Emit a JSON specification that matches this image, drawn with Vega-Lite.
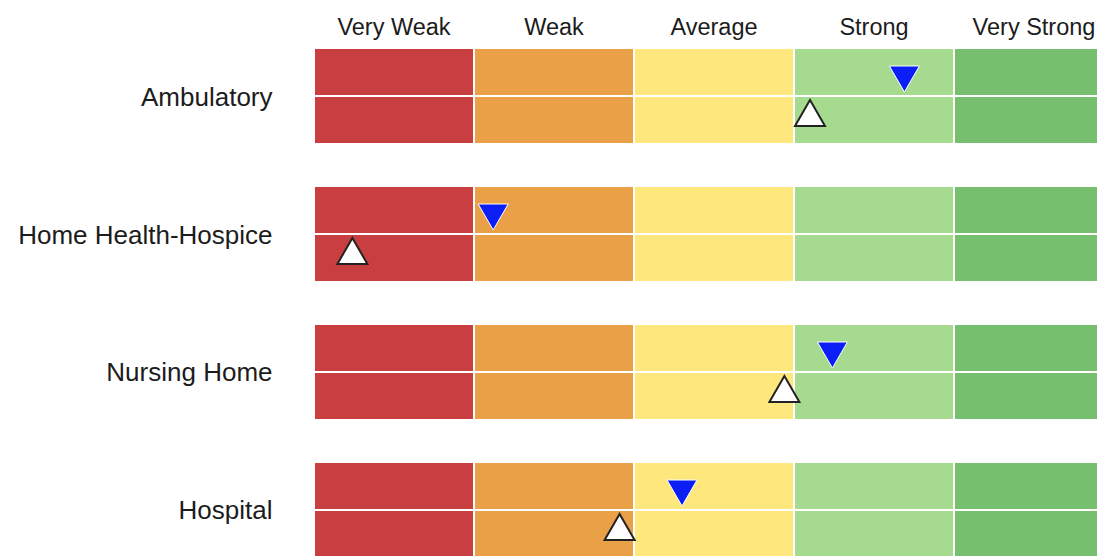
{
  "$schema": "https://vega.github.io/schema/vega-lite/v6.json",
  "width": 783,
  "height": 508,
  "autosize": {"type": "none"},
  "padding": {"left": 314, "top": 48, "right": 0, "bottom": 0},
  "background": "white",
  "config": {"view": {"stroke": null}, "font": "Liberation Sans"},
  "datasets": {
    "cells": [
      {"setting": "Ambulatory", "level": "Very Weak"},
      {"setting": "Ambulatory", "level": "Weak"},
      {"setting": "Ambulatory", "level": "Average"},
      {"setting": "Ambulatory", "level": "Strong"},
      {"setting": "Ambulatory", "level": "Very Strong"},
      {"setting": "Home Health-Hospice", "level": "Very Weak"},
      {"setting": "Home Health-Hospice", "level": "Weak"},
      {"setting": "Home Health-Hospice", "level": "Average"},
      {"setting": "Home Health-Hospice", "level": "Strong"},
      {"setting": "Home Health-Hospice", "level": "Very Strong"},
      {"setting": "Nursing Home", "level": "Very Weak"},
      {"setting": "Nursing Home", "level": "Weak"},
      {"setting": "Nursing Home", "level": "Average"},
      {"setting": "Nursing Home", "level": "Strong"},
      {"setting": "Nursing Home", "level": "Very Strong"},
      {"setting": "Hospital", "level": "Very Weak"},
      {"setting": "Hospital", "level": "Weak"},
      {"setting": "Hospital", "level": "Average"},
      {"setting": "Hospital", "level": "Strong"},
      {"setting": "Hospital", "level": "Very Strong"}
    ],
    "markers": [
      {"setting": "Ambulatory", "period": "Current", "score": 3.69},
      {"setting": "Ambulatory", "period": "Previous", "score": 3.10},
      {"setting": "Home Health-Hospice", "period": "Current", "score": 1.12},
      {"setting": "Home Health-Hospice", "period": "Previous", "score": 0.24},
      {"setting": "Nursing Home", "period": "Current", "score": 3.24},
      {"setting": "Nursing Home", "period": "Previous", "score": 2.94},
      {"setting": "Hospital", "period": "Current", "score": 2.30},
      {"setting": "Hospital", "period": "Previous", "score": 1.91}
    ]
  },
  "layer": [
    {
      "data": {"name": "cells"},
      "mark": {"type": "rect", "stroke": "white", "strokeWidth": 2},
      "encoding": {
        "x": {
          "field": "level",
          "type": "nominal",
          "sort": ["Very Weak", "Weak", "Average", "Strong", "Very Strong"],
          "scale": {"domain": ["Very Weak", "Weak", "Average", "Strong", "Very Strong"], "range": [0, 800], "paddingInner": 0, "paddingOuter": 0},
          "axis": {"orient": "top", "title": null, "ticks": false, "domain": false, "labelAngle": 0, "labelFontSize": 23.5, "labelColor": "#1c1c1c", "labelPadding": 9, "labelFont": "Liberation Sans", "labelLimit": 0}
        },
        "y": {
          "field": "setting",
          "type": "nominal",
          "sort": ["Ambulatory", "Home Health-Hospice", "Nursing Home", "Hospital"],
          "scale": {"domain": ["Ambulatory", "Home Health-Hospice", "Nursing Home", "Hospital"], "range": [0, 510], "paddingInner": 0.3043, "paddingOuter": 0},
          "axis": {"title": null, "ticks": false, "domain": false, "labelFontSize": 26, "labelColor": "#1c1c1c", "labelPadding": 42, "labelOffset": 1.5, "labelFont": "Liberation Sans", "labelLimit": 0}
        },
        "color": {
          "field": "level",
          "type": "nominal",
          "scale": {"domain": ["Very Weak", "Weak", "Average", "Strong", "Very Strong"], "range": ["#C93E41", "#EAA046", "#FEE87D", "#A6DB8F", "#76BF6F"]},
          "legend": null
        }
      }
    },
    {
      "data": {"name": "cells"},
      "mark": {"type": "rule", "color": "white", "strokeWidth": 2},
      "encoding": {
        "y": {"field": "setting", "type": "nominal"}
      }
    },
    {
      "data": {"name": "markers"},
      "transform": [{"filter": "datum.period === 'Current'"}],
      "mark": {"type": "point", "shape": "triangle-down", "filled": true, "size": 900, "opacity": 1, "fill": "#0A1EF5", "stroke": "#FFFFFF", "strokeWidth": 1, "yOffset": -17},
      "encoding": {
        "x": {"field": "score", "type": "quantitative", "scale": {"domain": [0, 5], "range": [0, 800], "nice": false, "zero": false}, "axis": null},
        "y": {"field": "setting", "type": "nominal"}
      }
    },
    {
      "data": {"name": "markers"},
      "transform": [{"filter": "datum.period === 'Previous'"}],
      "mark": {"type": "point", "shape": "triangle-up", "filled": true, "size": 900, "opacity": 1, "fill": "#FFFFFF", "stroke": "#222222", "strokeWidth": 2, "yOffset": 17},
      "encoding": {
        "x": {"field": "score", "type": "quantitative", "scale": {"domain": [0, 5], "range": [0, 800], "nice": false, "zero": false}, "axis": null},
        "y": {"field": "setting", "type": "nominal"}
      }
    }
  ],
  "resolve": {"scale": {"x": "independent", "color": "independent"}}
}
